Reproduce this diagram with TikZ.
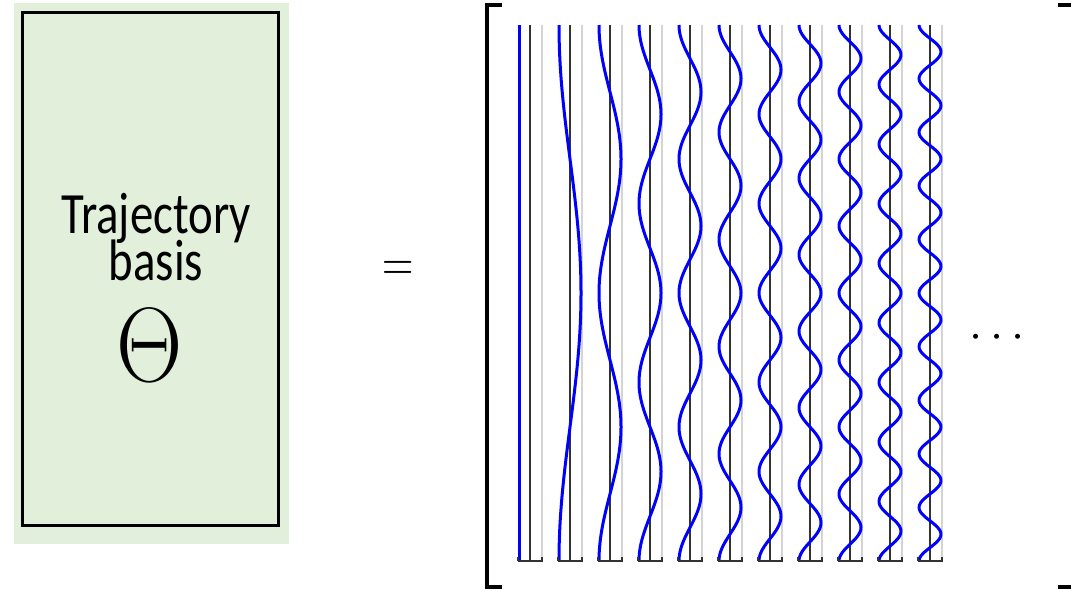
\RequirePackage{fix-cm}
\documentclass[tikz,border=0pt]{standalone}
\usepackage{fontspec}
\setmainfont{Carlito}
\usepackage{graphicx}
\definecolor{bggreen}{RGB}{226,239,218}
\definecolor{axisgray}{RGB}{50,50,50}
\definecolor{edgegray}{RGB}{212,212,212}
\definecolor{curveblue}{RGB}{0,0,255}
\tikzset{
  panel/.style={fill=bggreen, draw=none, inner sep=0, minimum width=137.5pt, minimum height=270.5pt},
  frame/.style={draw=black, line width=1.5pt, inner sep=0, minimum width=128pt, minimum height=256.5pt},
  label/.style={anchor=base, inner sep=0},
  bracketline/.style={line width=1.75pt, line cap=butt},
  zeroline/.style={axisgray, line width=0.75pt},
  edgeline/.style={edgegray, line width=0.75pt},
  basiscurve/.style={curveblue, line width=1.5pt, line join=round},
  axisline/.style={axisgray, line width=1pt}
}
\begin{document}
\begin{tikzpicture}[x=0.5pt,y=-0.5pt]
\useasboundingbox (0,0) rectangle (1071,590);
\clip (0,0) rectangle (1071,590);
% left panel
\node[panel] (bg) at (151.5,273.5) {};
\node[frame] (box) at (150,268.5) {};
\node[label] (title) at (156,233) {\scalebox{1}[1.25]{\fontsize{23.4}{18.8}\selectfont\vtop{\lineskiplimit=-100pt\lineskip=0pt\halign{\hfil#\hfil\cr Trajectory\cr basis\cr}}}};
\node[inner sep=0] (theta) at (150,345) {\scalebox{1}[1.15]{\fontsize{46}{54}\selectfont$\Theta$}};
% equals
\node[anchor=base, inner sep=0] (eq) at (398.5,281.5) {\scalebox{1}[1.3]{\fontsize{21.7}{26}\selectfont$=$}};
% bracket
\draw[bracketline] (502,5) -- (487,5) -- (487,587) -- (502,587);
\draw[bracketline] (1058,5) -- (1075,5) -- (1075,587) -- (1058,587);
% columns
\foreach \k in {0,...,10} {
  \pgfmathsetmacro\cx{530+40*\k}
  \draw[edgeline] (\cx+12,25) -- (\cx+12,561);
  \draw[zeroline] (\cx,25) -- (\cx,561);
  \draw[basiscurve] plot[domain=0:1, samples=241] ({\cx-11*cos(360*\k*\x)}, {25+536*\x});
  \draw[axisline] (\cx-12.5,561) -- (\cx+12.5,561);
  \draw[axisline] (\cx-12,561) -- (\cx-12,557);
  \draw[axisline] (\cx+12,561) -- (\cx+12,557);
}
% dots
\node[anchor=base, inner sep=0] (dots) at (997,348) {\fontsize{23.5}{28}\selectfont$\cdots$};
\end{tikzpicture}
\end{document}
